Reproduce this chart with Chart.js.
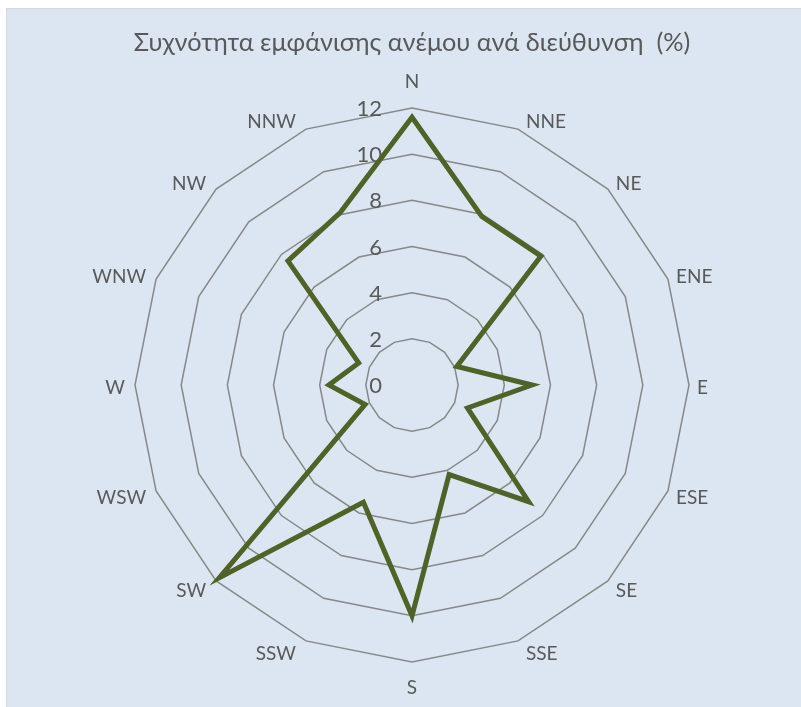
<!DOCTYPE html>
<html>
<head>
<meta charset="utf-8">
<script src="https://cdn.jsdelivr.net/npm/chart.js@4/dist/chart.umd.min.js"></script>
<style>
  html, body { margin: 0; padding: 0; background: #ffffff; }
  #wrap { position: absolute; left: 0; top: 0; width: 801px; height: 707px; }
  #bg { position: absolute; left: 6px; top: 8px; right: 0; bottom: 0; background: #dce6f2;
        border-top: 1px solid #d4d8dc; border-left: 1px solid #d4d8dc; }
  #myChart { position: absolute; left: 0; top: 0; }
</style>
</head>
<body>
<div id="wrap">
  <div id="bg"></div>
  <canvas id="myChart" width="801" height="707"></canvas>
</div>
<script>
var directions = ["N", "NNE", "NE", "ENE", "E", "ESE", "SE", "SSE",
                  "S", "SSW", "SW", "WSW", "W", "WNW", "NW", "NNW"];
var frequency = [11.6, 7.9, 7.9, 2.1, 5.2, 2.6, 7.15, 4.2,
                 10.0, 5.5, 11.8, 2.2, 3.6, 2.5, 7.6, 8.1];
var tickValues = [0, 2, 4, 6, 8, 10, 12];

// labels placed the way Excel does it: ticks left of the N axis,
// direction names hugging the outer ring
var excelLabels = {
    id: "excelLabels",
    beforeDatasetsDraw: function (chart) {
        var scale = chart.scales.r;
        var ctx = chart.ctx;
        ctx.save();
        ctx.fillStyle = "#595959";

        ctx.font = "22px Lato";
        ctx.textAlign = "right";
        ctx.textBaseline = "middle";
        tickValues.forEach(function (v) {
            var d = scale.getDistanceFromCenterForValue(v);
            ctx.fillText(String(v), scale.xCenter - 30, scale.yCenter - d + 1);
        });

        ctx.font = "19px Lato";
        var outer = scale.getDistanceFromCenterForValue(scale.max);
        directions.forEach(function (name, i) {
            var a = scale.getIndexAngle(i);
            var s = Math.sin(a), c = Math.cos(a);
            var p = scale.getPointPosition(i, outer);
            if (Math.abs(s) < 0.01) {
                ctx.textAlign = "center";
                ctx.fillText(name, p.x, p.y - c * 26);
            } else {
                ctx.textAlign = s > 0 ? "left" : "right";
                ctx.fillText(name, p.x + (s > 0 ? 8 : -10), p.y - c * 11 + 2.5);
            }
        });
        ctx.restore();
    }
};

var ctx = document.getElementById("myChart").getContext("2d");
var myChart = new Chart(ctx, {
    type: "radar",
    data: {
        labels: directions,
        datasets: [{
            label: "Συχνότητα (%)",
            data: frequency,
            borderColor: "#4f6228",
            borderWidth: 5,
            fill: false,
            pointRadius: 0,
            pointHoverRadius: 0,
            tension: 0
        }]
    },
    options: {
        responsive: false,
        animation: false,
        layout: { padding: { left: 23, right: 0, top: 0, bottom: 44 } },
        plugins: {
            legend: { display: false },
            tooltip: { enabled: false },
            title: {
                display: true,
                text: "Συχνότητα εμφάνισης ανέμου ανά διεύθυνση  (%)",
                color: "#595959",
                font: { family: "Lato", size: 25.3, weight: "normal" },
                padding: { top: 28, bottom: 50.6 }
            }
        },
        scales: {
            r: {
                min: 0,
                max: 12,
                ticks: { stepSize: 2, display: false },
                angleLines: { display: false },
                grid: { color: "#888888", lineWidth: 1.5 },
                pointLabels: { display: false }
            }
        }
    },
    plugins: [excelLabels]
});
</script>
</body>
</html>
